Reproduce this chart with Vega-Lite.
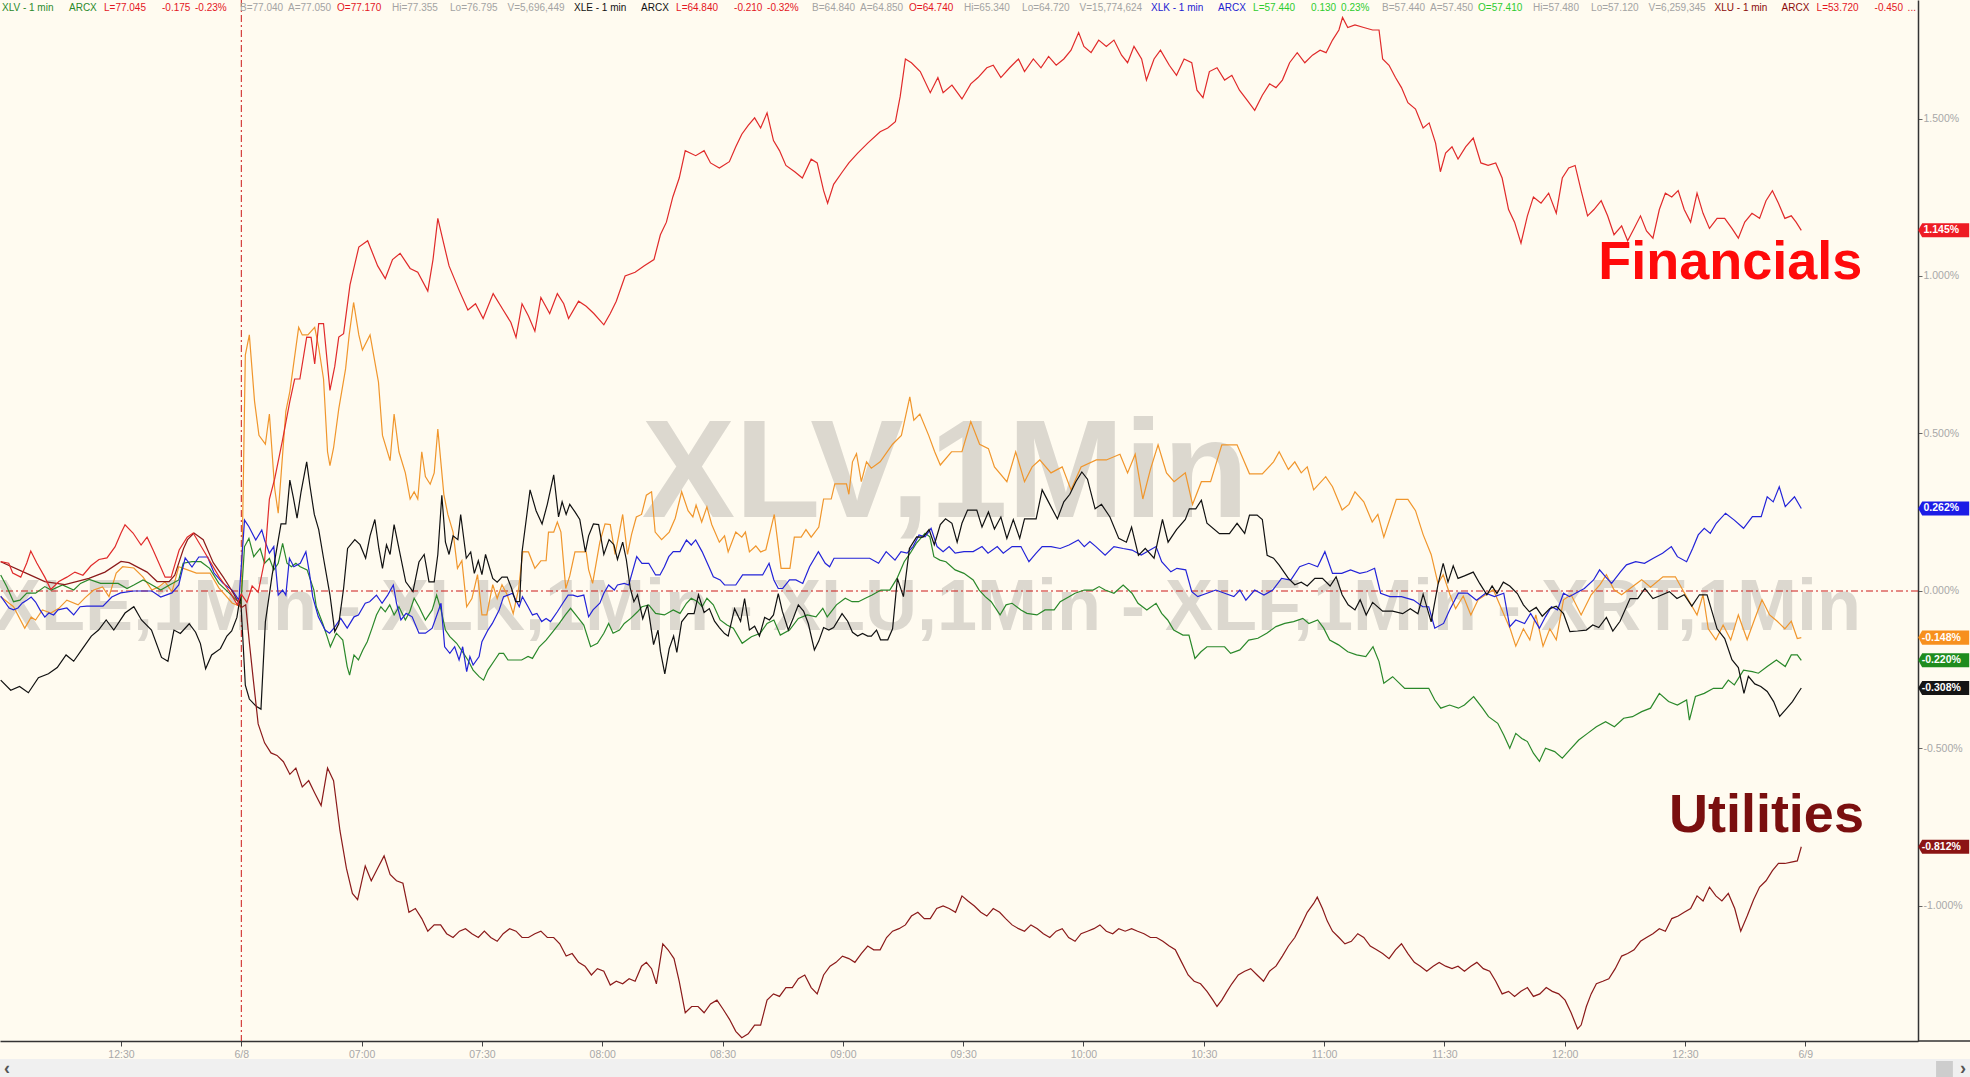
{
"$schema":"https://vega.github.io/schema/vega-lite/v6.json",
"autosize":{"type":"none"},
"width":1918,"height":1041,
"padding":{"left":0,"top":0,"right":52,"bottom":36},
"background":"#fffbf0",
"config":{"view":{"stroke":null},"font":"Liberation Sans",
 "axis":{"grid":false,"labelColor":"#a8a8a8","labelFont":"Liberation Sans","labelFontSize":10.5,"domainColor":"#333333","domainWidth":1.5,"tickWidth":1,"labelFlush":false,"labelOverlap":false},
 "axisX":{"tickColor":"#444444","tickSize":5,"labelPadding":3},
 "axisY":{"tickColor":"#666666","tickSize":4,"labelPadding":1,"labelAlign":"left","labelBaseline":"middle"}},
"datasets":{
"XLF":[{"t":0,"v":0.093},{"t":2,"v":0.088},{"t":3,"v":0.057},{"t":5,"v":0.044},{"t":6.5,"v":0.089},{"t":7.5,"v":0.127},{"t":9,"v":0.089},{"t":11,"v":0.044},{"t":12.5,"v":0.005},{"t":14.5,"v":0.03},{"t":16.5,"v":0.044},{"t":18.5,"v":0.06},{"t":20.5,"v":0.05},{"t":22.5,"v":0.08},{"t":24.5,"v":0.1},{"t":26.5,"v":0.105},{"t":28.5,"v":0.14},{"t":30,"v":0.184},{"t":31,"v":0.21},{"t":33,"v":0.184},{"t":35,"v":0.146},{"t":36.5,"v":0.171},{"t":38,"v":0.13},{"t":41,"v":0.044},{"t":42.5,"v":0.044},{"t":44.5,"v":0.13},{"t":46.5,"v":0.171},{"t":48,"v":0.184},{"t":51,"v":0.12},{"t":54.5,"v":0.044},{"t":57,"v":0.0},{"t":59,"v":-0.044},{"t":60,"v":-0.01},{"t":61.4,"v":-0.036},{"t":62.7,"v":0.016},{"t":64.2,"v":-0.004},{"t":65.8,"v":0.096},{"t":67,"v":0.292},{"t":68.3,"v":0.355},{"t":70.2,"v":0.474},{"t":72.1,"v":0.602},{"t":73.3,"v":0.673},{"t":74.6,"v":0.673},{"t":76.3,"v":0.806},{"t":77.4,"v":0.805},{"t":78.3,"v":0.721},{"t":79.3,"v":0.849},{"t":80.5,"v":0.849},{"t":82.1,"v":0.637},{"t":83.3,"v":0.713},{"t":84.3,"v":0.806},{"t":85.5,"v":0.817},{"t":87.1,"v":0.972},{"t":89.3,"v":1.092},{"t":91.5,"v":1.112},{"t":94,"v":1.032},{"t":95.9,"v":0.992},{"t":97.7,"v":1.052},{"t":99.6,"v":1.072},{"t":102.1,"v":1.024},{"t":104,"v":1.012},{"t":106.5,"v":0.952},{"t":107.8,"v":1.052},{"t":109,"v":1.183},{"t":110.3,"v":1.112},{"t":111.8,"v":1.032},{"t":114.4,"v":0.952},{"t":116.5,"v":0.892},{"t":118.4,"v":0.912},{"t":120.3,"v":0.865},{"t":122.8,"v":0.944},{"t":125.3,"v":0.892},{"t":127.2,"v":0.853},{"t":128.5,"v":0.805},{"t":130,"v":0.912},{"t":131.6,"v":0.873},{"t":133.2,"v":0.825},{"t":134.7,"v":0.932},{"t":136.9,"v":0.881},{"t":138.8,"v":0.944},{"t":140.4,"v":0.912},{"t":141.6,"v":0.865},{"t":144.1,"v":0.92},{"t":146,"v":0.904},{"t":147.9,"v":0.881},{"t":150.4,"v":0.845},{"t":152,"v":0.881},{"t":153.5,"v":0.92},{"t":155.7,"v":1.0},{"t":158.2,"v":1.012},{"t":160.4,"v":1.032},{"t":162.9,"v":1.052},{"t":164.5,"v":1.131},{"t":166,"v":1.171},{"t":167.6,"v":1.251},{"t":169.2,"v":1.311},{"t":170.7,"v":1.398},{"t":173.3,"v":1.382},{"t":175.4,"v":1.398},{"t":177,"v":1.359},{"t":179.2,"v":1.343},{"t":181.7,"v":1.363},{"t":183.3,"v":1.41},{"t":184.8,"v":1.45},{"t":186.4,"v":1.478},{"t":188,"v":1.502},{"t":189.5,"v":1.47},{"t":191.1,"v":1.518},{"t":192.7,"v":1.43},{"t":194.2,"v":1.398},{"t":195.8,"v":1.351},{"t":198,"v":1.331},{"t":199.9,"v":1.311},{"t":202.1,"v":1.371},{"t":203.6,"v":1.359},{"t":205.2,"v":1.271},{"t":206.2,"v":1.231},{"t":207.7,"v":1.291},{"t":209.9,"v":1.331},{"t":211.5,"v":1.359},{"t":213.7,"v":1.39},{"t":216.2,"v":1.422},{"t":219.3,"v":1.458},{"t":221.2,"v":1.47},{"t":223.1,"v":1.49},{"t":224.3,"v":1.57},{"t":225.6,"v":1.689},{"t":227.1,"v":1.677},{"t":229.3,"v":1.649},{"t":231.8,"v":1.582},{"t":233.7,"v":1.63},{"t":235,"v":1.582},{"t":237.2,"v":1.606},{"t":239.7,"v":1.562},{"t":241.9,"v":1.61},{"t":243.7,"v":1.63},{"t":245.9,"v":1.661},{"t":247.5,"v":1.669},{"t":249.4,"v":1.63},{"t":251.6,"v":1.661},{"t":253.8,"v":1.689},{"t":255.3,"v":1.649},{"t":257.5,"v":1.689},{"t":259.4,"v":1.661},{"t":261.3,"v":1.697},{"t":263.2,"v":1.669},{"t":265.1,"v":1.689},{"t":266.9,"v":1.717},{"t":268.8,"v":1.773},{"t":270.1,"v":1.729},{"t":271.9,"v":1.709},{"t":273.8,"v":1.749},{"t":275.7,"v":1.729},{"t":277.6,"v":1.749},{"t":279.5,"v":1.701},{"t":281,"v":1.677},{"t":282.6,"v":1.729},{"t":284.5,"v":1.689},{"t":285.7,"v":1.622},{"t":287.6,"v":1.689},{"t":289.2,"v":1.717},{"t":291.4,"v":1.669},{"t":293.2,"v":1.637},{"t":295.1,"v":1.689},{"t":297,"v":1.677},{"t":298.3,"v":1.59},{"t":299.8,"v":1.566},{"t":301.4,"v":1.649},{"t":303.3,"v":1.661},{"t":305.2,"v":1.622},{"t":307,"v":1.637},{"t":308.9,"v":1.59},{"t":310.8,"v":1.558},{"t":312.7,"v":1.526},{"t":314.6,"v":1.574},{"t":316.4,"v":1.61},{"t":318,"v":1.598},{"t":319.6,"v":1.622},{"t":321.4,"v":1.677},{"t":323.3,"v":1.709},{"t":325.2,"v":1.677},{"t":327.1,"v":1.701},{"t":329,"v":1.717},{"t":330.5,"v":1.709},{"t":332.1,"v":1.749},{"t":333.7,"v":1.781},{"t":334.6,"v":1.821},{"t":335.9,"v":1.789},{"t":337.7,"v":1.797},{"t":339.9,"v":1.789},{"t":342.1,"v":1.781},{"t":343.7,"v":1.781},{"t":344.6,"v":1.689},{"t":346.2,"v":1.669},{"t":347.8,"v":1.63},{"t":349.3,"v":1.598},{"t":350.9,"v":1.55},{"t":352.8,"v":1.53},{"t":354.7,"v":1.47},{"t":356.2,"v":1.486},{"t":357.8,"v":1.422},{"t":359,"v":1.331},{"t":360.3,"v":1.39},{"t":361.9,"v":1.41},{"t":363.4,"v":1.371},{"t":365.3,"v":1.41},{"t":367.2,"v":1.438},{"t":369.1,"v":1.359},{"t":370.9,"v":1.351},{"t":372.8,"v":1.359},{"t":374.4,"v":1.311},{"t":376,"v":1.211},{"t":377.5,"v":1.171},{"t":379.1,"v":1.104},{"t":380.7,"v":1.191},{"t":382.2,"v":1.251},{"t":384.1,"v":1.231},{"t":386,"v":1.263},{"t":387.9,"v":1.199},{"t":389.4,"v":1.311},{"t":391,"v":1.343},{"t":392.6,"v":1.351},{"t":394.1,"v":1.271},{"t":395.7,"v":1.191},{"t":397.3,"v":1.211},{"t":399.1,"v":1.239},{"t":400.7,"v":1.191},{"t":402.3,"v":1.131},{"t":404.2,"v":1.159},{"t":405.7,"v":1.112},{"t":407.3,"v":1.151},{"t":408.9,"v":1.191},{"t":410.4,"v":1.143},{"t":412,"v":1.12},{"t":413.6,"v":1.211},{"t":415.1,"v":1.263},{"t":416.7,"v":1.251},{"t":418.3,"v":1.271},{"t":419.8,"v":1.211},{"t":421.4,"v":1.171},{"t":423,"v":1.263},{"t":424.5,"v":1.199},{"t":426.1,"v":1.151},{"t":428,"v":1.183},{"t":429.9,"v":1.183},{"t":431.7,"v":1.151},{"t":433.3,"v":1.12},{"t":434.9,"v":1.171},{"t":436.7,"v":1.199},{"t":438.6,"v":1.183},{"t":440.2,"v":1.239},{"t":441.8,"v":1.271},{"t":443.3,"v":1.231},{"t":444.9,"v":1.183},{"t":446.5,"v":1.191},{"t":447.7,"v":1.171},{"t":449,"v":1.145}],
"XLU":[{"t":0,"v":0.093},{"t":6.6,"v":0.055},{"t":11,"v":0.03},{"t":16,"v":0.02},{"t":22,"v":0.04},{"t":26,"v":0.06},{"t":30,"v":0.094},{"t":32,"v":0.09},{"t":36.5,"v":0.06},{"t":39,"v":0.03},{"t":42,"v":0.03},{"t":43.4,"v":0.05},{"t":45.6,"v":0.135},{"t":46.6,"v":0.163},{"t":48.2,"v":0.184},{"t":50.5,"v":0.163},{"t":53,"v":0.09},{"t":55.5,"v":0.044},{"t":57.7,"v":0.0},{"t":60,"v":-0.053},{"t":61.1,"v":-0.044},{"t":62,"v":-0.163},{"t":63,"v":-0.283},{"t":64.2,"v":-0.422},{"t":65.8,"v":-0.482},{"t":67.4,"v":-0.514},{"t":68.9,"v":-0.522},{"t":70.5,"v":-0.542},{"t":72.1,"v":-0.582},{"t":73.6,"v":-0.562},{"t":75.2,"v":-0.622},{"t":76.8,"v":-0.602},{"t":78.3,"v":-0.641},{"t":79.9,"v":-0.681},{"t":81.5,"v":-0.562},{"t":83,"v":-0.602},{"t":84.6,"v":-0.761},{"t":86.2,"v":-0.88},{"t":87.7,"v":-0.96},{"t":89,"v":-0.98},{"t":90.9,"v":-0.873},{"t":92.4,"v":-0.92},{"t":94,"v":-0.88},{"t":95.6,"v":-0.841},{"t":97.1,"v":-0.9},{"t":98.7,"v":-0.92},{"t":100.3,"v":-0.928},{"t":101.8,"v":-1.02},{"t":103.4,"v":-1.008},{"t":105,"v":-1.04},{"t":106.5,"v":-1.08},{"t":108.1,"v":-1.06},{"t":109.7,"v":-1.06},{"t":111.2,"v":-1.088},{"t":112.8,"v":-1.1},{"t":114.4,"v":-1.08},{"t":115.9,"v":-1.072},{"t":117.5,"v":-1.088},{"t":119.1,"v":-1.1},{"t":120.6,"v":-1.08},{"t":122.2,"v":-1.1},{"t":123.8,"v":-1.112},{"t":125.3,"v":-1.088},{"t":126.9,"v":-1.072},{"t":128.5,"v":-1.08},{"t":130,"v":-1.1},{"t":131.6,"v":-1.1},{"t":133.2,"v":-1.088},{"t":134.7,"v":-1.08},{"t":136.3,"v":-1.1},{"t":137.9,"v":-1.1},{"t":139.4,"v":-1.12},{"t":141,"v":-1.159},{"t":142.5,"v":-1.151},{"t":144.1,"v":-1.179},{"t":145.7,"v":-1.191},{"t":147.3,"v":-1.219},{"t":148.8,"v":-1.199},{"t":150.4,"v":-1.207},{"t":152,"v":-1.251},{"t":153.5,"v":-1.239},{"t":155.1,"v":-1.247},{"t":156.7,"v":-1.231},{"t":158.2,"v":-1.239},{"t":159.8,"v":-1.191},{"t":161,"v":-1.179},{"t":162.3,"v":-1.199},{"t":163.5,"v":-1.247},{"t":165.1,"v":-1.12},{"t":166.4,"v":-1.139},{"t":167.9,"v":-1.167},{"t":169.2,"v":-1.239},{"t":170.7,"v":-1.339},{"t":172.3,"v":-1.319},{"t":173.9,"v":-1.319},{"t":175.4,"v":-1.339},{"t":177,"v":-1.311},{"t":178.6,"v":-1.299},{"t":180.1,"v":-1.327},{"t":181.7,"v":-1.359},{"t":183.3,"v":-1.398},{"t":184.8,"v":-1.418},{"t":186.4,"v":-1.406},{"t":188,"v":-1.378},{"t":189.5,"v":-1.378},{"t":191.1,"v":-1.299},{"t":192.7,"v":-1.279},{"t":194.2,"v":-1.287},{"t":195.8,"v":-1.259},{"t":197.4,"v":-1.259},{"t":198.9,"v":-1.231},{"t":200.5,"v":-1.219},{"t":202.1,"v":-1.259},{"t":203.6,"v":-1.279},{"t":205.2,"v":-1.219},{"t":206.8,"v":-1.191},{"t":208.3,"v":-1.179},{"t":209.9,"v":-1.159},{"t":211.5,"v":-1.167},{"t":213,"v":-1.179},{"t":214.6,"v":-1.151},{"t":216.2,"v":-1.127},{"t":217.7,"v":-1.139},{"t":219.3,"v":-1.139},{"t":220.9,"v":-1.1},{"t":222.4,"v":-1.08},{"t":224,"v":-1.072},{"t":225.6,"v":-1.06},{"t":227.1,"v":-1.032},{"t":228.7,"v":-1.02},{"t":230.3,"v":-1.04},{"t":231.8,"v":-1.04},{"t":233.4,"v":-1.008},{"t":235,"v":-1.0},{"t":236.5,"v":-1.008},{"t":238.1,"v":-1.02},{"t":239.7,"v":-0.968},{"t":241.2,"v":-0.984},{"t":242.8,"v":-1.0},{"t":244.4,"v":-1.02},{"t":245.9,"v":-1.032},{"t":247.5,"v":-1.008},{"t":249.1,"v":-1.02},{"t":250.6,"v":-1.04},{"t":252.2,"v":-1.06},{"t":253.8,"v":-1.072},{"t":255.3,"v":-1.08},{"t":256.9,"v":-1.06},{"t":258.5,"v":-1.072},{"t":260,"v":-1.088},{"t":261.6,"v":-1.1},{"t":263.2,"v":-1.08},{"t":264.7,"v":-1.072},{"t":266.3,"v":-1.1},{"t":267.9,"v":-1.112},{"t":269.4,"v":-1.088},{"t":271,"v":-1.08},{"t":272.6,"v":-1.072},{"t":274.1,"v":-1.06},{"t":275.7,"v":-1.08},{"t":277.3,"v":-1.088},{"t":278.8,"v":-1.072},{"t":280.4,"v":-1.08},{"t":282,"v":-1.072},{"t":283.5,"v":-1.08},{"t":285.1,"v":-1.088},{"t":286.7,"v":-1.1},{"t":288.2,"v":-1.1},{"t":289.8,"v":-1.112},{"t":291.4,"v":-1.127},{"t":292.9,"v":-1.139},{"t":294.5,"v":-1.179},{"t":296.1,"v":-1.219},{"t":297.6,"v":-1.239},{"t":299.2,"v":-1.247},{"t":300.8,"v":-1.271},{"t":302.3,"v":-1.299},{"t":303.3,"v":-1.319},{"t":304.5,"v":-1.299},{"t":305.8,"v":-1.271},{"t":307,"v":-1.247},{"t":308.6,"v":-1.219},{"t":310.2,"v":-1.207},{"t":311.7,"v":-1.199},{"t":313.3,"v":-1.219},{"t":314.9,"v":-1.239},{"t":316.4,"v":-1.207},{"t":318,"v":-1.191},{"t":319.6,"v":-1.159},{"t":321.1,"v":-1.127},{"t":322.7,"v":-1.1},{"t":324.3,"v":-1.06},{"t":325.8,"v":-1.02},{"t":327.4,"v":-0.992},{"t":328.3,"v":-0.972},{"t":329.6,"v":-1.008},{"t":330.8,"v":-1.048},{"t":332.1,"v":-1.08},{"t":333.7,"v":-1.1},{"t":335.2,"v":-1.12},{"t":336.8,"v":-1.112},{"t":338.4,"v":-1.088},{"t":339.9,"v":-1.1},{"t":341.5,"v":-1.127},{"t":343.1,"v":-1.139},{"t":344.6,"v":-1.151},{"t":346.2,"v":-1.167},{"t":347.8,"v":-1.139},{"t":349.3,"v":-1.12},{"t":350.9,"v":-1.151},{"t":352.5,"v":-1.179},{"t":354,"v":-1.191},{"t":355.6,"v":-1.207},{"t":357.2,"v":-1.191},{"t":358.7,"v":-1.179},{"t":360.3,"v":-1.191},{"t":361.9,"v":-1.199},{"t":363.4,"v":-1.191},{"t":365,"v":-1.207},{"t":366.6,"v":-1.191},{"t":368.1,"v":-1.179},{"t":369.7,"v":-1.199},{"t":371.3,"v":-1.207},{"t":372.8,"v":-1.239},{"t":374.4,"v":-1.279},{"t":376,"v":-1.271},{"t":377.5,"v":-1.287},{"t":379.1,"v":-1.271},{"t":380.7,"v":-1.259},{"t":382.2,"v":-1.287},{"t":383.8,"v":-1.279},{"t":385.4,"v":-1.259},{"t":386.9,"v":-1.271},{"t":388.5,"v":-1.279},{"t":390.1,"v":-1.299},{"t":391.6,"v":-1.339},{"t":393.2,"v":-1.39},{"t":394.1,"v":-1.378},{"t":395.4,"v":-1.319},{"t":396.6,"v":-1.279},{"t":397.9,"v":-1.247},{"t":399.5,"v":-1.239},{"t":401,"v":-1.231},{"t":402.6,"v":-1.199},{"t":404.2,"v":-1.159},{"t":405.7,"v":-1.151},{"t":407.3,"v":-1.139},{"t":408.9,"v":-1.112},{"t":410.4,"v":-1.1},{"t":412,"v":-1.088},{"t":413.6,"v":-1.072},{"t":415.1,"v":-1.08},{"t":416.7,"v":-1.04},{"t":418.3,"v":-1.032},{"t":419.8,"v":-1.02},{"t":421.4,"v":-1.008},{"t":423,"v":-0.968},{"t":424.5,"v":-0.984},{"t":426.1,"v":-0.94},{"t":427.7,"v":-0.968},{"t":429.2,"v":-0.984},{"t":430.8,"v":-0.96},{"t":432.4,"v":-1.008},{"t":433.9,"v":-1.08},{"t":435.5,"v":-1.032},{"t":437.1,"v":-0.98},{"t":438.6,"v":-0.94},{"t":440.2,"v":-0.92},{"t":441.8,"v":-0.888},{"t":443.3,"v":-0.865},{"t":444.9,"v":-0.865},{"t":446.5,"v":-0.861},{"t":448,"v":-0.857},{"t":449,"v":-0.812}],
"XRT":[{"t":0,"v":-0.018},{"t":3.2,"v":-0.05},{"t":6,"v":-0.118},{"t":7.6,"v":-0.083},{"t":8.7,"v":-0.092},{"t":10.4,"v":-0.06},{"t":12.5,"v":-0.07},{"t":14.5,"v":-0.055},{"t":16.5,"v":-0.029},{"t":19.3,"v":-0.044},{"t":21,"v":-0.022},{"t":23.2,"v":0.003},{"t":25.4,"v":0.013},{"t":27,"v":-0.018},{"t":28.8,"v":0.057},{"t":30.4,"v":0.077},{"t":33.2,"v":0.073},{"t":35.5,"v":0.044},{"t":37.7,"v":0.003},{"t":39.4,"v":0.013},{"t":41,"v":0.029},{"t":42.7,"v":-0.003},{"t":44.4,"v":0.077},{"t":46.6,"v":0.067},{"t":48.8,"v":0.057},{"t":52.2,"v":0.057},{"t":54.4,"v":0.01},{"t":57.7,"v":-0.038},{"t":60,"v":-0.05},{"t":61,"v":0.749},{"t":62,"v":0.813},{"t":63.3,"v":0.602},{"t":64.4,"v":0.494},{"t":66,"v":0.466},{"t":67,"v":0.562},{"t":68.3,"v":0.327},{"t":69.2,"v":0.247},{"t":71.1,"v":0.57},{"t":72.1,"v":0.633},{"t":74.3,"v":0.837},{"t":75.2,"v":0.813},{"t":76.6,"v":0.813},{"t":78.3,"v":0.837},{"t":79.3,"v":0.773},{"t":80.5,"v":0.673},{"t":81.5,"v":0.442},{"t":82.1,"v":0.398},{"t":83,"v":0.454},{"t":84.3,"v":0.578},{"t":86,"v":0.705},{"t":86.9,"v":0.813},{"t":88,"v":0.916},{"t":89.3,"v":0.813},{"t":90.2,"v":0.765},{"t":92.1,"v":0.813},{"t":94.2,"v":0.663},{"t":95.2,"v":0.494},{"t":97.1,"v":0.414},{"t":98.1,"v":0.562},{"t":99.3,"v":0.442},{"t":100.9,"v":0.375},{"t":102.1,"v":0.292},{"t":103.1,"v":0.315},{"t":104,"v":0.292},{"t":105,"v":0.442},{"t":105.9,"v":0.363},{"t":107.1,"v":0.339},{"t":108.1,"v":0.375},{"t":109,"v":0.514},{"t":110.5,"v":0.307},{"t":111.5,"v":0.243},{"t":112.8,"v":0.187},{"t":113.9,"v":0.072},{"t":115,"v":0.096},{"t":116.2,"v":-0.05},{"t":117.5,"v":-0.024},{"t":118.9,"v":0.052},{"t":120,"v":-0.076},{"t":121.2,"v":-0.076},{"t":122.7,"v":0.02},{"t":123.8,"v":-0.024},{"t":125,"v":0.02},{"t":126.3,"v":-0.012},{"t":127.8,"v":-0.072},{"t":129.1,"v":0.004},{"t":130.2,"v":0.125},{"t":131.6,"v":0.124},{"t":133.2,"v":0.072},{"t":134.7,"v":0.096},{"t":136,"v":0.096},{"t":136.6,"v":0.187},{"t":137.9,"v":0.187},{"t":138.8,"v":0.219},{"t":139.7,"v":0.187},{"t":140.9,"v":0.008},{"t":141.9,"v":0.048},{"t":143.2,"v":0.124},{"t":146,"v":0.124},{"t":146.6,"v":0.068},{"t":147.6,"v":0.024},{"t":149.4,"v":0.155},{"t":150.7,"v":0.213},{"t":152,"v":0.211},{"t":153.2,"v":0.116},{"t":154.1,"v":0.175},{"t":155.1,"v":0.243},{"t":156.3,"v":0.116},{"t":157.3,"v":0.179},{"t":158.5,"v":0.235},{"t":159.8,"v":0.243},{"t":161,"v":0.304},{"t":162.3,"v":0.315},{"t":163.2,"v":0.187},{"t":164.8,"v":0.163},{"t":166.7,"v":0.187},{"t":168.2,"v":0.231},{"t":169.8,"v":0.315},{"t":171.4,"v":0.255},{"t":172.6,"v":0.235},{"t":173.4,"v":0.273},{"t":174.8,"v":0.219},{"t":176.1,"v":0.267},{"t":177.3,"v":0.211},{"t":179.2,"v":0.155},{"t":180.5,"v":0.175},{"t":181.4,"v":0.124},{"t":183.3,"v":0.187},{"t":184.8,"v":0.171},{"t":185.7,"v":0.187},{"t":186.7,"v":0.124},{"t":188.3,"v":0.143},{"t":189.5,"v":0.124},{"t":190.8,"v":0.131},{"t":192.9,"v":0.243},{"t":194.6,"v":0.072},{"t":196.8,"v":0.072},{"t":197.9,"v":0.171},{"t":199.6,"v":0.171},{"t":200.8,"v":0.195},{"t":202.1,"v":0.171},{"t":204,"v":0.203},{"t":205.2,"v":0.292},{"t":207.1,"v":0.292},{"t":208,"v":0.34},{"t":210.9,"v":0.34},{"t":211.5,"v":0.307},{"t":212.4,"v":0.41},{"t":213.4,"v":0.436},{"t":214.6,"v":0.347},{"t":215.9,"v":0.41},{"t":217.1,"v":0.39},{"t":219.3,"v":0.41},{"t":222.4,"v":0.466},{"t":224.6,"v":0.494},{"t":226.7,"v":0.616},{"t":227.7,"v":0.542},{"t":229.2,"v":0.562},{"t":231.4,"v":0.494},{"t":232.9,"v":0.442},{"t":234.3,"v":0.4},{"t":237.1,"v":0.442},{"t":239.7,"v":0.442},{"t":241.9,"v":0.538},{"t":244.1,"v":0.466},{"t":246.3,"v":0.452},{"t":247.8,"v":0.394},{"t":250.9,"v":0.347},{"t":253.1,"v":0.442},{"t":255.3,"v":0.347},{"t":257.2,"v":0.394},{"t":259.1,"v":0.416},{"t":261.9,"v":0.375},{"t":264.7,"v":0.394},{"t":266.9,"v":0.321},{"t":269.4,"v":0.394},{"t":273.2,"v":0.416},{"t":275.7,"v":0.416},{"t":279.1,"v":0.434},{"t":281,"v":0.375},{"t":282.9,"v":0.434},{"t":284.8,"v":0.292},{"t":286.7,"v":0.386},{"t":288.6,"v":0.464},{"t":290.7,"v":0.375},{"t":292.6,"v":0.347},{"t":295.4,"v":0.375},{"t":297.2,"v":0.275},{"t":299.4,"v":0.347},{"t":301.7,"v":0.347},{"t":304.5,"v":0.464},{"t":308.3,"v":0.464},{"t":311.4,"v":0.372},{"t":314.6,"v":0.372},{"t":317.4,"v":0.41},{"t":318.8,"v":0.442},{"t":321.1,"v":0.386},{"t":322.7,"v":0.41},{"t":324.3,"v":0.375},{"t":325.8,"v":0.394},{"t":327.4,"v":0.321},{"t":330.4,"v":0.363},{"t":332.1,"v":0.331},{"t":334.5,"v":0.257},{"t":336.2,"v":0.275},{"t":337.7,"v":0.315},{"t":339.9,"v":0.283},{"t":342,"v":0.219},{"t":343.4,"v":0.243},{"t":344.9,"v":0.171},{"t":348,"v":0.291},{"t":350.9,"v":0.291},{"t":352.8,"v":0.255},{"t":354.7,"v":0.179},{"t":356.7,"v":0.116},{"t":358.4,"v":0.024},{"t":359.7,"v":0.052},{"t":361.4,"v":-0.012},{"t":362.8,"v":-0.056},{"t":364.7,"v":-0.016},{"t":366.6,"v":-0.076},{"t":368.4,"v":-0.028},{"t":372.2,"v":0.004},{"t":374.9,"v":-0.076},{"t":376.4,"v":-0.12},{"t":377.8,"v":-0.175},{"t":379.7,"v":-0.12},{"t":381.3,"v":-0.155},{"t":382.8,"v":-0.076},{"t":384.6,"v":-0.175},{"t":386.3,"v":-0.12},{"t":387.9,"v":-0.155},{"t":389.7,"v":-0.028},{"t":391.6,"v":-0.012},{"t":394.1,"v":-0.076},{"t":396.6,"v":-0.012},{"t":398.8,"v":0.02},{"t":400.4,"v":0.052},{"t":402.3,"v":0.004},{"t":404.2,"v":-0.012},{"t":406.7,"v":0.012},{"t":409.2,"v":0.036},{"t":411.4,"v":0.012},{"t":414.5,"v":0.045},{"t":417.6,"v":0.045},{"t":420.1,"v":-0.012},{"t":423,"v":-0.076},{"t":424.5,"v":-0.012},{"t":425.8,"v":-0.12},{"t":427.7,"v":-0.155},{"t":429.5,"v":-0.108},{"t":431.4,"v":-0.155},{"t":433.3,"v":-0.076},{"t":435.5,"v":-0.155},{"t":437.4,"v":-0.088},{"t":439.2,"v":-0.028},{"t":441.1,"v":-0.076},{"t":443,"v":-0.096},{"t":444.9,"v":-0.12},{"t":446.5,"v":-0.096},{"t":448,"v":-0.151},{"t":449,"v":-0.148}],
"XLV":[{"t":0,"v":0.051},{"t":1.5,"v":0.014},{"t":3.2,"v":-0.034},{"t":4.8,"v":-0.029},{"t":6.5,"v":-0.007},{"t":8.7,"v":-0.007},{"t":11,"v":0.014},{"t":12.6,"v":0.003},{"t":15.4,"v":0.019},{"t":18.2,"v":0.003},{"t":19.9,"v":0.024},{"t":22.1,"v":0.037},{"t":24.9,"v":0.024},{"t":26.5,"v":0.024},{"t":29.3,"v":0.024},{"t":31.5,"v":0.008},{"t":33.2,"v":0.019},{"t":35.5,"v":0.035},{"t":37.1,"v":0.024},{"t":39.9,"v":0.003},{"t":42.1,"v":0.019},{"t":44.4,"v":0.035},{"t":45.5,"v":0.088},{"t":47.7,"v":0.093},{"t":49.9,"v":0.093},{"t":52.1,"v":0.072},{"t":54.4,"v":0.024},{"t":56.6,"v":-0.002},{"t":58.8,"v":-0.029},{"t":59.9,"v":-0.039},{"t":60.8,"v":0.141},{"t":61.9,"v":0.167},{"t":63.1,"v":0.109},{"t":64.7,"v":0.135},{"t":65.8,"v":0.088},{"t":67,"v":0.104},{"t":68.1,"v":0.067},{"t":69.2,"v":0.088},{"t":70.3,"v":0.151},{"t":71.4,"v":0.088},{"t":72.5,"v":0.077},{"t":73.6,"v":0.088},{"t":74.7,"v":0.077},{"t":76.4,"v":0.067},{"t":78.1,"v":0.003},{"t":78.7,"v":-0.05},{"t":80.3,"v":-0.103},{"t":81.4,"v":-0.145},{"t":82.2,"v":-0.177},{"t":83.7,"v":-0.134},{"t":85.3,"v":-0.156},{"t":86.4,"v":-0.24},{"t":87,"v":-0.267},{"t":88.1,"v":-0.203},{"t":89.2,"v":-0.219},{"t":90.3,"v":-0.187},{"t":91.4,"v":-0.161},{"t":92.6,"v":-0.118},{"t":93.7,"v":-0.076},{"t":94.8,"v":-0.05},{"t":95.9,"v":-0.066},{"t":97,"v":-0.044},{"t":98.1,"v":-0.076},{"t":99.3,"v":-0.05},{"t":100.9,"v":-0.092},{"t":102,"v":-0.066},{"t":103.1,"v":-0.023},{"t":104.3,"v":-0.05},{"t":105.9,"v":-0.092},{"t":107.6,"v":-0.06},{"t":108.7,"v":-0.013},{"t":109.8,"v":-0.06},{"t":110.9,"v":-0.124},{"t":112,"v":-0.145},{"t":113.7,"v":-0.166},{"t":115.4,"v":-0.198},{"t":116.5,"v":-0.219},{"t":117.8,"v":-0.251},{"t":119.3,"v":-0.272},{"t":120.4,"v":-0.283},{"t":121.5,"v":-0.251},{"t":123.2,"v":-0.219},{"t":124.3,"v":-0.198},{"t":125.4,"v":-0.198},{"t":126.5,"v":-0.219},{"t":128.2,"v":-0.219},{"t":129.9,"v":-0.219},{"t":131.5,"v":-0.208},{"t":132.6,"v":-0.214},{"t":134.3,"v":-0.177},{"t":136,"v":-0.156},{"t":137.7,"v":-0.129},{"t":139.3,"v":-0.103},{"t":140.8,"v":-0.076},{"t":142.1,"v":-0.055},{"t":143.8,"v":-0.082},{"t":145.4,"v":-0.108},{"t":147.1,"v":-0.177},{"t":148.8,"v":-0.166},{"t":150.4,"v":-0.134},{"t":151.6,"v":-0.103},{"t":152.7,"v":-0.134},{"t":154.3,"v":-0.124},{"t":155.5,"v":-0.103},{"t":157.1,"v":-0.087},{"t":158.8,"v":-0.066},{"t":159.9,"v":-0.05},{"t":161.6,"v":-0.044},{"t":163.3,"v":-0.071},{"t":165.5,"v":-0.076},{"t":167.7,"v":-0.06},{"t":169.4,"v":-0.071},{"t":171,"v":-0.039},{"t":172.2,"v":-0.023},{"t":173.8,"v":-0.034},{"t":174.9,"v":-0.05},{"t":176.1,"v":-0.023},{"t":177.7,"v":-0.044},{"t":179.4,"v":-0.092},{"t":181.1,"v":-0.108},{"t":182.7,"v":-0.118},{"t":184.9,"v":-0.166},{"t":187.2,"v":-0.145},{"t":189.4,"v":-0.134},{"t":191.1,"v":-0.103},{"t":192.8,"v":-0.092},{"t":194.4,"v":-0.14},{"t":196.7,"v":-0.124},{"t":198.9,"v":-0.087},{"t":201.1,"v":-0.076},{"t":203.3,"v":-0.082},{"t":205,"v":-0.055},{"t":206.1,"v":-0.082},{"t":208.4,"v":-0.044},{"t":210.6,"v":-0.023},{"t":212.3,"v":-0.034},{"t":213.9,"v":-0.034},{"t":215.6,"v":-0.023},{"t":217.3,"v":-0.013},{"t":219.5,"v":0.003},{"t":221.7,"v":0.003},{"t":223.5,"v":0.04},{"t":225.3,"v":0.093},{"t":226.8,"v":0.12},{"t":228.3,"v":0.151},{"t":230.5,"v":0.183},{"t":231.7,"v":0.172},{"t":232.7,"v":0.109},{"t":234.2,"v":0.098},{"t":235.7,"v":0.093},{"t":238,"v":0.067},{"t":240.2,"v":0.056},{"t":242.5,"v":0.035},{"t":244,"v":0.003},{"t":245.5,"v":-0.018},{"t":247,"v":-0.034},{"t":249.2,"v":-0.076},{"t":250.7,"v":-0.044},{"t":252.2,"v":-0.039},{"t":254.4,"v":-0.06},{"t":255.9,"v":-0.071},{"t":258.4,"v":-0.076},{"t":260.4,"v":-0.06},{"t":262.7,"v":-0.06},{"t":264.2,"v":-0.034},{"t":266.4,"v":-0.018},{"t":267.9,"v":-0.007},{"t":270.2,"v":0.003},{"t":272.4,"v":0.003},{"t":273.9,"v":0.014},{"t":275.4,"v":0.003},{"t":277.6,"v":-0.007},{"t":279.9,"v":0.019},{"t":282.1,"v":-0.007},{"t":283.6,"v":-0.039},{"t":285.8,"v":-0.06},{"t":288.1,"v":-0.039},{"t":289.5,"v":-0.071},{"t":291,"v":-0.092},{"t":292.5,"v":-0.124},{"t":294.8,"v":-0.14},{"t":296.3,"v":-0.14},{"t":297.8,"v":-0.214},{"t":299.3,"v":-0.193},{"t":300.8,"v":-0.177},{"t":303,"v":-0.177},{"t":305.2,"v":-0.177},{"t":306.7,"v":-0.198},{"t":309,"v":-0.187},{"t":311.2,"v":-0.156},{"t":313.5,"v":-0.15},{"t":315.7,"v":-0.134},{"t":318,"v":-0.113},{"t":320.2,"v":-0.103},{"t":322.4,"v":-0.097},{"t":324.7,"v":-0.087},{"t":326.2,"v":-0.103},{"t":328.4,"v":-0.092},{"t":329.9,"v":-0.118},{"t":331.4,"v":-0.156},{"t":333.6,"v":-0.171},{"t":335.9,"v":-0.193},{"t":338.1,"v":-0.203},{"t":340.4,"v":-0.208},{"t":342.2,"v":-0.177},{"t":343.7,"v":-0.224},{"t":344.9,"v":-0.293},{"t":347.1,"v":-0.272},{"t":350.1,"v":-0.309},{"t":353.1,"v":-0.309},{"t":356.1,"v":-0.309},{"t":357.6,"v":-0.346},{"t":359.1,"v":-0.372},{"t":361.3,"v":-0.362},{"t":363.5,"v":-0.372},{"t":365,"v":-0.362},{"t":367.3,"v":-0.335},{"t":369.5,"v":-0.372},{"t":371,"v":-0.399},{"t":373.3,"v":-0.42},{"t":374.8,"v":-0.457},{"t":376.3,"v":-0.499},{"t":377.8,"v":-0.452},{"t":379.3,"v":-0.468},{"t":380.7,"v":-0.478},{"t":382.2,"v":-0.515},{"t":383.7,"v":-0.541},{"t":385.2,"v":-0.499},{"t":387.5,"v":-0.51},{"t":389.4,"v":-0.531},{"t":391.2,"v":-0.505},{"t":393.5,"v":-0.473},{"t":395.7,"v":-0.452},{"t":397.9,"v":-0.431},{"t":400.2,"v":-0.415},{"t":402.4,"v":-0.431},{"t":404.7,"v":-0.404},{"t":406.9,"v":-0.399},{"t":409.2,"v":-0.383},{"t":411.4,"v":-0.372},{"t":413.6,"v":-0.325},{"t":415.9,"v":-0.351},{"t":418.1,"v":-0.362},{"t":420.4,"v":-0.346},{"t":421.1,"v":-0.41},{"t":422.6,"v":-0.335},{"t":424.8,"v":-0.325},{"t":427.1,"v":-0.309},{"t":429.3,"v":-0.309},{"t":430.8,"v":-0.283},{"t":432.3,"v":-0.298},{"t":434.6,"v":-0.251},{"t":436.8,"v":-0.256},{"t":438.3,"v":-0.261},{"t":440.5,"v":-0.24},{"t":442.8,"v":-0.219},{"t":445,"v":-0.24},{"t":446.5,"v":-0.203},{"t":448,"v":-0.203},{"t":449,"v":-0.22}],
"XLK":[{"t":0,"v":-0.016},{"t":2.1,"v":-0.054},{"t":3.2,"v":-0.06},{"t":4.3,"v":-0.054},{"t":5.4,"v":-0.038},{"t":6.5,"v":-0.029},{"t":7.6,"v":-0.019},{"t":8.7,"v":-0.035},{"t":9.8,"v":-0.06},{"t":11,"v":-0.083},{"t":12,"v":-0.07},{"t":13.2,"v":-0.076},{"t":14.3,"v":-0.06},{"t":16.5,"v":-0.054},{"t":18.2,"v":-0.076},{"t":19.8,"v":-0.05},{"t":21.5,"v":-0.048},{"t":23.3,"v":-0.048},{"t":25.5,"v":-0.048},{"t":27.7,"v":-0.019},{"t":29.9,"v":-0.006},{"t":33.2,"v":0.0},{"t":37.7,"v":0.0},{"t":39.9,"v":-0.019},{"t":42.7,"v":-0.006},{"t":44.4,"v":0.019},{"t":46,"v":0.105},{"t":47.7,"v":0.076},{"t":49.4,"v":0.108},{"t":51.6,"v":0.108},{"t":53.2,"v":0.057},{"t":55.4,"v":0.025},{"t":57.7,"v":0.003},{"t":59.4,"v":-0.029},{"t":60.8,"v":0.225},{"t":61.9,"v":0.204},{"t":63.6,"v":0.162},{"t":65.1,"v":0.194},{"t":65.8,"v":0.162},{"t":67,"v":0.12},{"t":68.1,"v":0.141},{"t":69.2,"v":-0.013},{"t":70.3,"v":0.003},{"t":71.1,"v":-0.013},{"t":72,"v":0.104},{"t":73.1,"v":0.077},{"t":74.7,"v":0.088},{"t":76.1,"v":0.125},{"t":77,"v":0.056},{"t":77.8,"v":-0.018},{"t":79.2,"v":-0.082},{"t":80.9,"v":-0.124},{"t":82,"v":-0.134},{"t":83.1,"v":-0.118},{"t":84.8,"v":-0.087},{"t":86.4,"v":-0.118},{"t":88.1,"v":-0.082},{"t":89.2,"v":-0.076},{"t":90.9,"v":-0.039},{"t":92,"v":-0.034},{"t":93.7,"v":-0.013},{"t":95.1,"v":-0.039},{"t":96.5,"v":-0.013},{"t":97.9,"v":0.019},{"t":98.7,"v":-0.039},{"t":99.8,"v":-0.092},{"t":101.1,"v":-0.071},{"t":102.6,"v":-0.082},{"t":104.3,"v":-0.134},{"t":105.9,"v":-0.134},{"t":107.6,"v":-0.118},{"t":109.8,"v":-0.039},{"t":110.7,"v":-0.177},{"t":112,"v":-0.198},{"t":113.2,"v":-0.177},{"t":114.3,"v":-0.219},{"t":115.2,"v":-0.177},{"t":116.2,"v":-0.256},{"t":117,"v":-0.208},{"t":117.8,"v":-0.235},{"t":119.3,"v":-0.208},{"t":120,"v":-0.161},{"t":121.5,"v":-0.124},{"t":122.6,"v":-0.103},{"t":124.3,"v":-0.06},{"t":125.4,"v":-0.018},{"t":126.5,"v":-0.013},{"t":127.6,"v":-0.007},{"t":129.3,"v":-0.05},{"t":130.1,"v":-0.018},{"t":131.5,"v":-0.05},{"t":132.6,"v":-0.076},{"t":133.7,"v":-0.071},{"t":134.9,"v":-0.097},{"t":136,"v":-0.087},{"t":137.1,"v":-0.097},{"t":138.8,"v":-0.066},{"t":140.4,"v":-0.034},{"t":141.5,"v":-0.013},{"t":142.7,"v":-0.013},{"t":143.8,"v":-0.018},{"t":145.4,"v":-0.013},{"t":146.6,"v":-0.082},{"t":147.7,"v":-0.06},{"t":149.4,"v":-0.039},{"t":150.4,"v":-0.007},{"t":151.6,"v":0.019},{"t":153,"v":0.003},{"t":153.8,"v":0.019},{"t":155.5,"v":0.024},{"t":156.6,"v":0.019},{"t":158.6,"v":0.109},{"t":159.9,"v":0.088},{"t":161.6,"v":0.088},{"t":163.3,"v":0.051},{"t":164.4,"v":0.051},{"t":165.5,"v":0.077},{"t":166.6,"v":0.109},{"t":167.7,"v":0.125},{"t":169.4,"v":0.125},{"t":171,"v":0.162},{"t":172.2,"v":0.146},{"t":173.3,"v":0.162},{"t":174.9,"v":0.125},{"t":176.6,"v":0.077},{"t":177.7,"v":0.045},{"t":179.4,"v":0.035},{"t":180.5,"v":0.019},{"t":181.6,"v":0.019},{"t":183.3,"v":0.019},{"t":185,"v":0.051},{"t":188.3,"v":0.051},{"t":190,"v":0.051},{"t":191.6,"v":0.088},{"t":192.8,"v":0.035},{"t":193.9,"v":0.008},{"t":195,"v":0.008},{"t":196.7,"v":0.035},{"t":198.3,"v":0.035},{"t":200,"v":0.024},{"t":201.7,"v":0.077},{"t":203.9,"v":0.125},{"t":205.6,"v":0.088},{"t":206.7,"v":0.077},{"t":207.8,"v":0.104},{"t":210,"v":0.104},{"t":212.2,"v":0.104},{"t":214.5,"v":0.104},{"t":216.7,"v":0.104},{"t":218.9,"v":0.088},{"t":220.8,"v":0.125},{"t":223,"v":0.098},{"t":224.5,"v":0.125},{"t":226,"v":0.12},{"t":227.5,"v":0.141},{"t":229,"v":0.178},{"t":230.5,"v":0.172},{"t":232,"v":0.199},{"t":233.5,"v":0.141},{"t":235,"v":0.125},{"t":236.5,"v":0.141},{"t":238,"v":0.12},{"t":240.2,"v":0.125},{"t":242.5,"v":0.125},{"t":244.7,"v":0.141},{"t":246.2,"v":0.12},{"t":248.5,"v":0.141},{"t":250,"v":0.12},{"t":252.2,"v":0.141},{"t":254.4,"v":0.141},{"t":256.4,"v":0.093},{"t":258.2,"v":0.12},{"t":259.7,"v":0.141},{"t":261.9,"v":0.141},{"t":264.2,"v":0.135},{"t":266.4,"v":0.146},{"t":268.7,"v":0.162},{"t":270.2,"v":0.141},{"t":271.6,"v":0.157},{"t":273.1,"v":0.141},{"t":275.4,"v":0.114},{"t":277.6,"v":0.141},{"t":279.9,"v":0.135},{"t":282.1,"v":0.13},{"t":284.4,"v":0.114},{"t":286.6,"v":0.13},{"t":288.1,"v":0.141},{"t":289.5,"v":0.093},{"t":291.8,"v":0.061},{"t":293.3,"v":0.072},{"t":295.5,"v":0.067},{"t":297,"v":-0.002},{"t":298.5,"v":-0.018},{"t":300.8,"v":-0.007},{"t":303,"v":0.003},{"t":305.2,"v":-0.007},{"t":307.5,"v":-0.018},{"t":309,"v":0.003},{"t":310.5,"v":-0.029},{"t":312.7,"v":0.003},{"t":315,"v":-0.013},{"t":317.2,"v":0.003},{"t":319.4,"v":0.04},{"t":321.7,"v":0.035},{"t":323.9,"v":0.077},{"t":326.2,"v":0.088},{"t":328.4,"v":0.077},{"t":330.2,"v":0.125},{"t":332.1,"v":0.056},{"t":334.4,"v":0.056},{"t":336.6,"v":0.067},{"t":338.9,"v":0.056},{"t":340.7,"v":0.061},{"t":342.6,"v":0.072},{"t":344.1,"v":-0.007},{"t":346.4,"v":-0.018},{"t":349.3,"v":-0.018},{"t":352.3,"v":-0.029},{"t":354.6,"v":-0.05},{"t":356.1,"v":-0.05},{"t":357.6,"v":-0.118},{"t":359.8,"v":-0.103},{"t":361.3,"v":-0.06},{"t":363.5,"v":-0.007},{"t":365.8,"v":-0.007},{"t":368,"v":-0.029},{"t":370.3,"v":-0.007},{"t":372.5,"v":-0.018},{"t":374.8,"v":-0.007},{"t":376.3,"v":-0.113},{"t":377.8,"v":-0.092},{"t":380,"v":-0.103},{"t":381.5,"v":-0.071},{"t":383.7,"v":-0.118},{"t":385.2,"v":-0.082},{"t":386.7,"v":-0.05},{"t":388.2,"v":-0.06},{"t":389.7,"v":-0.007},{"t":391.2,"v":-0.018},{"t":392.7,"v":-0.007},{"t":394.9,"v":0.008},{"t":397.2,"v":0.035},{"t":398.7,"v":0.067},{"t":400.2,"v":0.045},{"t":401.7,"v":0.024},{"t":403.9,"v":0.061},{"t":405.4,"v":0.083},{"t":407.7,"v":0.093},{"t":409.9,"v":0.088},{"t":412.1,"v":0.104},{"t":414.4,"v":0.12},{"t":416.6,"v":0.141},{"t":418.1,"v":0.109},{"t":420.4,"v":0.093},{"t":421.9,"v":0.135},{"t":423.3,"v":0.178},{"t":424.8,"v":0.199},{"t":426.3,"v":0.183},{"t":427.8,"v":0.215},{"t":430.1,"v":0.247},{"t":432.3,"v":0.225},{"t":434.6,"v":0.199},{"t":436.8,"v":0.236},{"t":439,"v":0.236},{"t":440.5,"v":0.299},{"t":442,"v":0.283},{"t":443.5,"v":0.331},{"t":445,"v":0.268},{"t":447.3,"v":0.299},{"t":449,"v":0.262}],
"XLE":[{"t":0,"v":-0.283},{"t":2.5,"v":-0.315},{"t":4.7,"v":-0.303},{"t":6.9,"v":-0.323},{"t":9.4,"v":-0.275},{"t":11.9,"v":-0.263},{"t":14.1,"v":-0.243},{"t":16.3,"v":-0.203},{"t":18.2,"v":-0.223},{"t":20.4,"v":-0.183},{"t":22.6,"v":-0.143},{"t":24.4,"v":-0.124},{"t":26.3,"v":-0.092},{"t":28.2,"v":-0.124},{"t":31,"v":-0.07},{"t":33.2,"v":-0.05},{"t":35.1,"v":-0.092},{"t":37.6,"v":-0.124},{"t":40.1,"v":-0.211},{"t":41.7,"v":-0.223},{"t":43.2,"v":-0.124},{"t":44.8,"v":-0.135},{"t":47,"v":-0.104},{"t":48.6,"v":-0.131},{"t":49.8,"v":-0.167},{"t":51.1,"v":-0.247},{"t":52.6,"v":-0.203},{"t":54.8,"v":-0.183},{"t":56.4,"v":-0.143},{"t":57.6,"v":-0.127},{"t":58.9,"v":-0.084},{"t":59.8,"v":-0.012},{"t":61,"v":-0.299},{"t":62,"v":-0.343},{"t":63.8,"v":-0.367},{"t":64.9,"v":-0.375},{"t":66,"v":-0.098},{"t":67.7,"v":0.052},{"t":68.6,"v":0.116},{"t":69.9,"v":0.213},{"t":71.1,"v":0.213},{"t":72.1,"v":0.352},{"t":73,"v":0.295},{"t":73.9,"v":0.231},{"t":74.9,"v":0.315},{"t":76.3,"v":0.41},{"t":77.1,"v":0.335},{"t":78.2,"v":0.243},{"t":79.3,"v":0.195},{"t":80.5,"v":0.104},{"t":82.1,"v":-0.012},{"t":83.3,"v":-0.129},{"t":84.3,"v":-0.104},{"t":85.5,"v":0.008},{"t":86.5,"v":0.135},{"t":88.3,"v":0.163},{"t":89.6,"v":0.147},{"t":91,"v":0.104},{"t":92.1,"v":0.175},{"t":93.3,"v":0.227},{"t":94.3,"v":0.135},{"t":95.2,"v":0.072},{"t":96.2,"v":0.147},{"t":97.1,"v":0.116},{"t":98.1,"v":0.211},{"t":99.3,"v":0.135},{"t":101,"v":0.029},{"t":102.8,"v":-0.002},{"t":104.3,"v":0.092},{"t":105.6,"v":0.116},{"t":106.8,"v":0.029},{"t":108.1,"v":0.029},{"t":109,"v":0.116},{"t":110,"v":0.304},{"t":110.9,"v":0.155},{"t":111.8,"v":0.116},{"t":112.8,"v":0.175},{"t":114,"v":0.163},{"t":114.7,"v":0.243},{"t":116.1,"v":0.104},{"t":117.2,"v":0.124},{"t":118.1,"v":0.056},{"t":119.1,"v":0.096},{"t":120,"v":0.052},{"t":120.9,"v":0.116},{"t":122.7,"v":0.04},{"t":123.8,"v":0.028},{"t":125,"v":0.044},{"t":126.3,"v":0.044},{"t":127.4,"v":0.008},{"t":128.4,"v":-0.034},{"t":129.4,"v":-0.034},{"t":130,"v":0.124},{"t":132,"v":0.321},{"t":133.5,"v":0.255},{"t":135,"v":0.213},{"t":136.3,"v":0.275},{"t":137.9,"v":0.369},{"t":139.1,"v":0.235},{"t":140,"v":0.283},{"t":141,"v":0.243},{"t":141.9,"v":0.275},{"t":143.2,"v":0.251},{"t":144.4,"v":0.227},{"t":145.8,"v":0.124},{"t":146.6,"v":0.175},{"t":147.8,"v":0.213},{"t":149.1,"v":0.211},{"t":150.4,"v":0.116},{"t":151.7,"v":0.163},{"t":152.9,"v":0.147},{"t":153.8,"v":0.1},{"t":155.1,"v":0.155},{"t":156,"v":0.1},{"t":157,"v":0.008},{"t":157.9,"v":-0.034},{"t":158.8,"v":-0.012},{"t":160.1,"v":-0.088},{"t":161.3,"v":-0.044},{"t":162.8,"v":-0.17},{"t":163.9,"v":-0.124},{"t":164.5,"v":-0.191},{"t":165.6,"v":-0.263},{"t":166.7,"v":-0.183},{"t":167.8,"v":-0.143},{"t":168.6,"v":-0.195},{"t":169.8,"v":-0.098},{"t":171.4,"v":-0.072},{"t":172.9,"v":-0.072},{"t":174,"v":-0.012},{"t":175.4,"v":-0.068},{"t":176.7,"v":-0.056},{"t":178,"v":-0.096},{"t":179.2,"v":-0.116},{"t":180.5,"v":-0.135},{"t":181.4,"v":-0.143},{"t":183,"v":-0.056},{"t":184.5,"v":-0.096},{"t":185.5,"v":-0.024},{"t":186.7,"v":-0.124},{"t":188,"v":-0.112},{"t":189.2,"v":-0.143},{"t":190.5,"v":-0.084},{"t":191.7,"v":-0.092},{"t":192.7,"v":-0.076},{"t":193.9,"v":-0.008},{"t":194.9,"v":-0.064},{"t":196.4,"v":-0.124},{"t":197.7,"v":-0.084},{"t":198.9,"v":-0.044},{"t":200.2,"v":-0.064},{"t":201.4,"v":-0.104},{"t":202.9,"v":-0.187},{"t":204,"v":-0.159},{"t":205.2,"v":-0.116},{"t":206.5,"v":-0.124},{"t":207.7,"v":-0.116},{"t":209.8,"v":-0.072},{"t":211.2,"v":-0.096},{"t":212.4,"v":-0.131},{"t":213.7,"v":-0.143},{"t":214.9,"v":-0.135},{"t":216.2,"v":-0.143},{"t":217.1,"v":-0.143},{"t":218.4,"v":-0.124},{"t":219.4,"v":-0.155},{"t":221.2,"v":-0.155},{"t":222.4,"v":-0.12},{"t":223.6,"v":0.04},{"t":225.1,"v":-0.018},{"t":226.6,"v":0.135},{"t":228.4,"v":0.172},{"t":230,"v":0.171},{"t":231.5,"v":0.195},{"t":232.8,"v":0.147},{"t":234.3,"v":0.211},{"t":235.6,"v":0.229},{"t":237.2,"v":0.215},{"t":238.5,"v":0.155},{"t":239.7,"v":0.215},{"t":241.1,"v":0.257},{"t":243.4,"v":0.257},{"t":244.7,"v":0.203},{"t":246.3,"v":0.251},{"t":247.8,"v":0.197},{"t":249.4,"v":0.235},{"t":250.9,"v":0.167},{"t":252.5,"v":0.227},{"t":254.1,"v":0.167},{"t":255.3,"v":0.229},{"t":258.2,"v":0.229},{"t":259.7,"v":0.321},{"t":261.6,"v":0.275},{"t":263.5,"v":0.229},{"t":265.1,"v":0.283},{"t":266.6,"v":0.307},{"t":268.1,"v":0.347},{"t":269.6,"v":0.378},{"t":271,"v":0.355},{"t":272.9,"v":0.261},{"t":274.5,"v":0.275},{"t":276.6,"v":0.235},{"t":278.8,"v":0.167},{"t":280.7,"v":0.155},{"t":282,"v":0.203},{"t":283.7,"v":0.113},{"t":285.4,"v":0.135},{"t":287.6,"v":0.104},{"t":289.7,"v":0.227},{"t":291.1,"v":0.155},{"t":293.2,"v":0.195},{"t":295.4,"v":0.227},{"t":296.4,"v":0.261},{"t":298,"v":0.261},{"t":299.4,"v":0.288},{"t":300.8,"v":0.215},{"t":303.9,"v":0.182},{"t":306.4,"v":0.182},{"t":308.3,"v":0.215},{"t":310.2,"v":0.183},{"t":311.4,"v":0.241},{"t":313.3,"v":0.241},{"t":314.6,"v":0.227},{"t":315.8,"v":0.113},{"t":317.4,"v":0.104},{"t":318.8,"v":0.082},{"t":321.1,"v":0.04},{"t":322.7,"v":0.02},{"t":324.3,"v":0.028},{"t":325.8,"v":0.016},{"t":327.7,"v":0.04},{"t":329.6,"v":0.04},{"t":331.5,"v":0.016},{"t":333,"v":0.045},{"t":334.5,"v":-0.012},{"t":336,"v":-0.044},{"t":337.7,"v":-0.06},{"t":339,"v":-0.028},{"t":340.5,"v":-0.076},{"t":342.1,"v":-0.036},{"t":344.6,"v":-0.064},{"t":347.1,"v":-0.064},{"t":349.6,"v":-0.072},{"t":351.5,"v":-0.056},{"t":353.4,"v":-0.072},{"t":354.7,"v":-0.01},{"t":356.7,"v":-0.098},{"t":358.4,"v":0.02},{"t":359.7,"v":0.088},{"t":360.9,"v":0.028},{"t":362.2,"v":0.08},{"t":363.4,"v":0.04},{"t":365,"v":0.048},{"t":367.2,"v":0.06},{"t":368.8,"v":0.024},{"t":370.6,"v":-0.012},{"t":371.9,"v":0.016},{"t":373.1,"v":-0.008},{"t":374.7,"v":0.028},{"t":376.3,"v":0.016},{"t":378.2,"v":-0.008},{"t":379.7,"v":-0.044},{"t":381.2,"v":-0.066},{"t":382.9,"v":-0.052},{"t":384.4,"v":-0.08},{"t":386.3,"v":-0.056},{"t":387.9,"v":-0.048},{"t":389.7,"v":-0.072},{"t":391.3,"v":-0.129},{"t":393.2,"v":-0.127},{"t":395.4,"v":-0.124},{"t":397,"v":-0.108},{"t":398.5,"v":-0.116},{"t":400.4,"v":-0.084},{"t":402,"v":-0.127},{"t":403.8,"v":-0.096},{"t":406.3,"v":-0.024},{"t":408.2,"v":-0.024},{"t":410,"v":0.008},{"t":412,"v":-0.024},{"t":413.6,"v":-0.016},{"t":416.1,"v":-0.002},{"t":418,"v":-0.024},{"t":419.8,"v":-0.012},{"t":421.7,"v":-0.048},{"t":423.6,"v":-0.012},{"t":425.5,"v":-0.012},{"t":428,"v":-0.12},{"t":429.9,"v":-0.151},{"t":431.7,"v":-0.218},{"t":433.3,"v":-0.243},{"t":434.7,"v":-0.325},{"t":435.8,"v":-0.271},{"t":437.4,"v":-0.295},{"t":438.9,"v":-0.303},{"t":440.5,"v":-0.319},{"t":442.1,"v":-0.351},{"t":443.6,"v":-0.398},{"t":445.2,"v":-0.375},{"t":446.8,"v":-0.351},{"t":448,"v":-0.327},{"t":449,"v":-0.308}],
"tags":[{"s":"XLF","v":1.145,"lab":"1.145%"},{"s":"XLK","v":0.262,"lab":"0.262%"},{"s":"XRT","v":-0.148,"lab":"-0.148%"},{"s":"XLV","v":-0.22,"lab":"-0.220%"},{"s":"XLE","v":-0.308,"lab":"-0.308%"},{"s":"XLU","v":-0.812,"lab":"-0.812%"}],
"hdr":[{"t":0.32,"k":"g","x":"XLV - 1 min"},{"t":17.03,"k":"g","x":"ARCX"},{"t":25.76,"k":"r","x":"L=77.045"},{"t":40.22,"k":"r","x":"-0.175"},{"t":48.45,"k":"r","x":"-0.23%"},{"t":59.68,"k":"n","x":"B=77.040"},{"t":71.65,"k":"n","x":"A=77.050"},{"t":83.87,"k":"r","x":"O=77.170"},{"t":97.58,"k":"n","x":"Hi=77.355"},{"t":112.04,"k":"n","x":"Lo=76.795"},{"t":126.38,"k":"n","x":"V=5,696,449"},{"t":142.97,"k":"b","x":"XLE - 1 min"},{"t":159.68,"k":"b","x":"ARCX"},{"t":168.41,"k":"r","x":"L=64.840"},{"t":182.87,"k":"r","x":"-0.210"},{"t":191.1,"k":"r","x":"-0.32%"},{"t":202.32,"k":"n","x":"B=64.840"},{"t":214.29,"k":"n","x":"A=64.850"},{"t":226.51,"k":"r","x":"O=64.740"},{"t":240.22,"k":"n","x":"Hi=65.340"},{"t":254.69,"k":"n","x":"Lo=64.720"},{"t":269.03,"k":"n","x":"V=15,774,624"},{"t":286.86,"k":"u","x":"XLK - 1 min"},{"t":303.57,"k":"u","x":"ARCX"},{"t":312.3,"k":"l","x":"L=57.440"},{"t":326.76,"k":"l","x":"0.130"},{"t":334.24,"k":"l","x":"0.23%"},{"t":344.46,"k":"n","x":"B=57.440"},{"t":356.43,"k":"n","x":"A=57.450"},{"t":368.4,"k":"l","x":"O=57.410"},{"t":382.12,"k":"n","x":"Hi=57.480"},{"t":396.58,"k":"n","x":"Lo=57.120"},{"t":410.92,"k":"n","x":"V=6,259,345"},{"t":427.38,"k":"d","x":"XLU - 1 min"},{"t":444.09,"k":"d","x":"ARCX"},{"t":452.82,"k":"r","x":"L=53.720"},{"t":467.28,"k":"r","x":"-0.450"},{"t":475.51,"k":"r","x":"..."}]
},
"layer":[
{"data":{"values":[{}]},"mark":{"type":"text","text":"XLV,1Min","font":"Liberation Sans","fontSize":140,"fontWeight":"bold","color":"#dcd8cf","align":"center","baseline":"alphabetic"},
 "encoding":{"x":{"datum":235.5,"type":"quantitative","scale":{"domain":[-0.175,478.1],"nice":false,"zero":false},"axis":{"title":null}},"y":{"datum":0.235,"type":"quantitative","scale":{"domain":[-1.4286,1.8762],"nice":false,"zero":false},"axis":{"title":null}}}},
{"data":{"values":[{}]},"mark":{"type":"text","text":"XLE,1Min - XLK,1Min - XLU,1Min - XLF,1Min - XRT,1Min","font":"Liberation Sans","fontSize":72,"fontWeight":"bold","color":"#dcd8cf","align":"center","baseline":"alphabetic"},
 "encoding":{"x":{"datum":231,"type":"quantitative","scale":{"domain":[-0.175,478.1],"nice":false,"zero":false},"axis":{"title":null}},"y":{"datum":-0.124,"type":"quantitative","scale":{"domain":[-1.4286,1.8762],"nice":false,"zero":false},"axis":{"title":null}}}},
{"data":{"values":[{}]},"mark":{"type":"rule","color":"#cc1a1a","strokeWidth":1.2,"strokeDash":[7,3,2,3]},
 "encoding":{"y":{"datum":0,"type":"quantitative","scale":{"domain":[-1.4286,1.8762],"nice":false,"zero":false},"axis":{"title":null}}}},
{"data":{"values":[{}]},"mark":{"type":"rule","color":"#cc1a1a","strokeWidth":1,"strokeDash":[7,3,2,3]},
 "encoding":{"x":{"datum":60,"type":"quantitative","scale":{"domain":[-0.175,478.1],"nice":false,"zero":false},"axis":{"title":null}}}},
{"data":{"name":"XRT"},"mark":{"type":"line","stroke":"#f0962c","strokeWidth":1.2,"clip":true},
 "encoding":{"x":{"field":"t","type":"quantitative","scale":{"domain":[-0.175,478.1],"nice":false,"zero":false},
   "axis":{"orient":"bottom","values":[30,60,90,120,150,180,210,240,270,300,330,360,390,420,450],"labelExpr":"datum.value==60?'6/8':datum.value==450?'6/9':datum.value==30?'12:30':(floor((330+datum.value)/60)<10?'0':'')+floor((330+datum.value)/60)+':'+(((330+datum.value)%60)<10?'0':'')+((330+datum.value)%60)","title":null,"grid":false}},
  "y":{"field":"v","type":"quantitative","scale":{"domain":[-1.4286,1.8762],"nice":false,"zero":false},
   "axis":{"orient":"right","values":[-1,-0.5,0,0.5,1,1.5],"labelExpr":"replace(format(datum.value,'.3f'),'\u2212','-')+'%'","title":null,"grid":false}}}},
{"data":{"name":"XLV"},"mark":{"type":"line","stroke":"#2a882a","strokeWidth":1.2,"clip":true},
 "encoding":{"x":{"field":"t","type":"quantitative","scale":{"domain":[-0.175,478.1],"nice":false,"zero":false},"axis":{"title":null}},"y":{"field":"v","type":"quantitative","scale":{"domain":[-1.4286,1.8762],"nice":false,"zero":false},"axis":{"title":null}}}},
{"data":{"name":"XLK"},"mark":{"type":"line","stroke":"#2323d8","strokeWidth":1.2,"clip":true},
 "encoding":{"x":{"field":"t","type":"quantitative","scale":{"domain":[-0.175,478.1],"nice":false,"zero":false},"axis":{"title":null}},"y":{"field":"v","type":"quantitative","scale":{"domain":[-1.4286,1.8762],"nice":false,"zero":false},"axis":{"title":null}}}},
{"data":{"name":"XLE"},"mark":{"type":"line","stroke":"#111111","strokeWidth":1.2,"clip":true},
 "encoding":{"x":{"field":"t","type":"quantitative","scale":{"domain":[-0.175,478.1],"nice":false,"zero":false},"axis":{"title":null}},"y":{"field":"v","type":"quantitative","scale":{"domain":[-1.4286,1.8762],"nice":false,"zero":false},"axis":{"title":null}}}},
{"data":{"name":"XLU"},"mark":{"type":"line","stroke":"#8b1a1a","strokeWidth":1.2,"clip":true},
 "encoding":{"x":{"field":"t","type":"quantitative","scale":{"domain":[-0.175,478.1],"nice":false,"zero":false},"axis":{"title":null}},"y":{"field":"v","type":"quantitative","scale":{"domain":[-1.4286,1.8762],"nice":false,"zero":false},"axis":{"title":null}}}},
{"data":{"name":"XLF"},"mark":{"type":"line","stroke":"#e02a2a","strokeWidth":1.2,"clip":true},
 "encoding":{"x":{"field":"t","type":"quantitative","scale":{"domain":[-0.175,478.1],"nice":false,"zero":false},"axis":{"title":null}},"y":{"field":"v","type":"quantitative","scale":{"domain":[-1.4286,1.8762],"nice":false,"zero":false},"axis":{"title":null}}}},
{"data":{"values":[{}]},"mark":{"type":"rule","color":"#333333","strokeWidth":1.5},
 "encoding":{"x":{"datum":478.1,"type":"quantitative","scale":{"domain":[-0.175,478.1],"nice":false,"zero":false},"axis":{"title":null}},"x2":{"datum":492},"y":{"datum":-1.4286,"type":"quantitative","scale":{"domain":[-1.4286,1.8762],"nice":false,"zero":false},"axis":{"title":null}}}},
{"data":{"values":[{}]},"mark":{"type":"rect","color":"#f0f0f0"},
 "encoding":{"x":{"datum":-1,"type":"quantitative","scale":{"domain":[-0.175,478.1],"nice":false,"zero":false},"axis":{"title":null}},"x2":{"datum":492},"y":{"datum":-1.486,"type":"quantitative","scale":{"domain":[-1.4286,1.8762],"nice":false,"zero":false},"axis":{"title":null}},"y2":{"datum":-1.56}}},
{"data":{"values":[{}]},"mark":{"type":"rect","color":"#cdcdcd"},
 "encoding":{"x":{"datum":482.6,"type":"quantitative","scale":{"domain":[-0.175,478.1],"nice":false,"zero":false},"axis":{"title":null}},"x2":{"datum":486.8},"y":{"datum":-1.492,"type":"quantitative","scale":{"domain":[-1.4286,1.8762],"nice":false,"zero":false},"axis":{"title":null}},"y2":{"datum":-1.56}}},
{"data":{"values":[{}]},"mark":{"type":"text","text":"‹","fontSize":18,"fontWeight":"bold","color":"#555555","align":"left","baseline":"middle"},
 "encoding":{"x":{"datum":0.8,"type":"quantitative","scale":{"domain":[-0.175,478.1],"nice":false,"zero":false},"axis":{"title":null}},"y":{"datum":-1.516,"type":"quantitative","scale":{"domain":[-1.4286,1.8762],"nice":false,"zero":false},"axis":{"title":null}}}},
{"data":{"values":[{}]},"mark":{"type":"text","text":"›","fontSize":18,"fontWeight":"bold","color":"#555555","align":"left","baseline":"middle"},
 "encoding":{"x":{"datum":488.6,"type":"quantitative","scale":{"domain":[-0.175,478.1],"nice":false,"zero":false},"axis":{"title":null}},"y":{"datum":-1.516,"type":"quantitative","scale":{"domain":[-1.4286,1.8762],"nice":false,"zero":false},"axis":{"title":null}}}},
{"data":{"name":"tags"},"mark":{"type":"point","shape":"M-1,0L-0.843,-0.275L1,-0.275L1,0.275L-0.843,0.275Z","filled":true,"size":2601,"opacity":1,"strokeWidth":0},
 "encoding":{"x":{"datum":484.5,"type":"quantitative","scale":{"domain":[-0.175,478.1],"nice":false,"zero":false},"axis":{"title":null}},"y":{"field":"v","type":"quantitative","scale":{"domain":[-1.4286,1.8762],"nice":false,"zero":false},"axis":{"title":null}},
  "color":{"field":"s","type":"nominal","scale":{"domain":["XLF","XLK","XRT","XLV","XLE","XLU"],"range":["#ee1c24","#1c1ce6","#f7901e","#1e8c1e","#151515","#8b1414"]},"legend":null}}},
{"data":{"name":"tags"},"mark":{"type":"text","color":"#ffffff","font":"Liberation Sans","fontSize":10.5,"fontWeight":"bold","align":"center","baseline":"middle"},
 "encoding":{"x":{"datum":483.9,"type":"quantitative","scale":{"domain":[-0.175,478.1],"nice":false,"zero":false},"axis":{"title":null}},"y":{"field":"v","type":"quantitative","scale":{"domain":[-1.4286,1.8762],"nice":false,"zero":false},"axis":{"title":null}},"text":{"field":"lab"}}},
{"data":{"values":[{}]},"mark":{"type":"text","text":"Financials","font":"Liberation Sans","fontSize":54,"fontWeight":"bold","color":"#ff0a0a","align":"center","baseline":"alphabetic"},
 "encoding":{"x":{"datum":431.3,"type":"quantitative","scale":{"domain":[-0.175,478.1],"nice":false,"zero":false},"axis":{"title":null}},"y":{"datum":0.99,"type":"quantitative","scale":{"domain":[-1.4286,1.8762],"nice":false,"zero":false},"axis":{"title":null}}}},
{"data":{"values":[{}]},"mark":{"type":"text","text":"Utilities","font":"Liberation Sans","fontSize":54,"fontWeight":"bold","color":"#7a0f0f","align":"center","baseline":"alphabetic"},
 "encoding":{"x":{"datum":440.3,"type":"quantitative","scale":{"domain":[-0.175,478.1],"nice":false,"zero":false},"axis":{"title":null}},"y":{"datum":-0.765,"type":"quantitative","scale":{"domain":[-1.4286,1.8762],"nice":false,"zero":false},"axis":{"title":null}}}},
{"data":{"name":"hdr"},"mark":{"type":"text","font":"Liberation Sans","fontSize":10,"align":"left","baseline":"middle"},
 "encoding":{"x":{"field":"t","type":"quantitative","scale":{"domain":[-0.175,478.1],"nice":false,"zero":false},"axis":{"title":null}},"y":{"datum":1.852,"type":"quantitative","scale":{"domain":[-1.4286,1.8762],"nice":false,"zero":false},"axis":{"title":null}},"text":{"field":"x"},
  "color":{"field":"k","type":"nominal","scale":{"domain":["g","r","n","b","u","l","d"],"range":["#2b8a2b","#e3161e","#a3a3a3","#111111","#1c1cd0","#2ecc2e","#8b0a0a"]},"legend":null}}}
],
"resolve":{"scale":{"color":"independent"}}
}
